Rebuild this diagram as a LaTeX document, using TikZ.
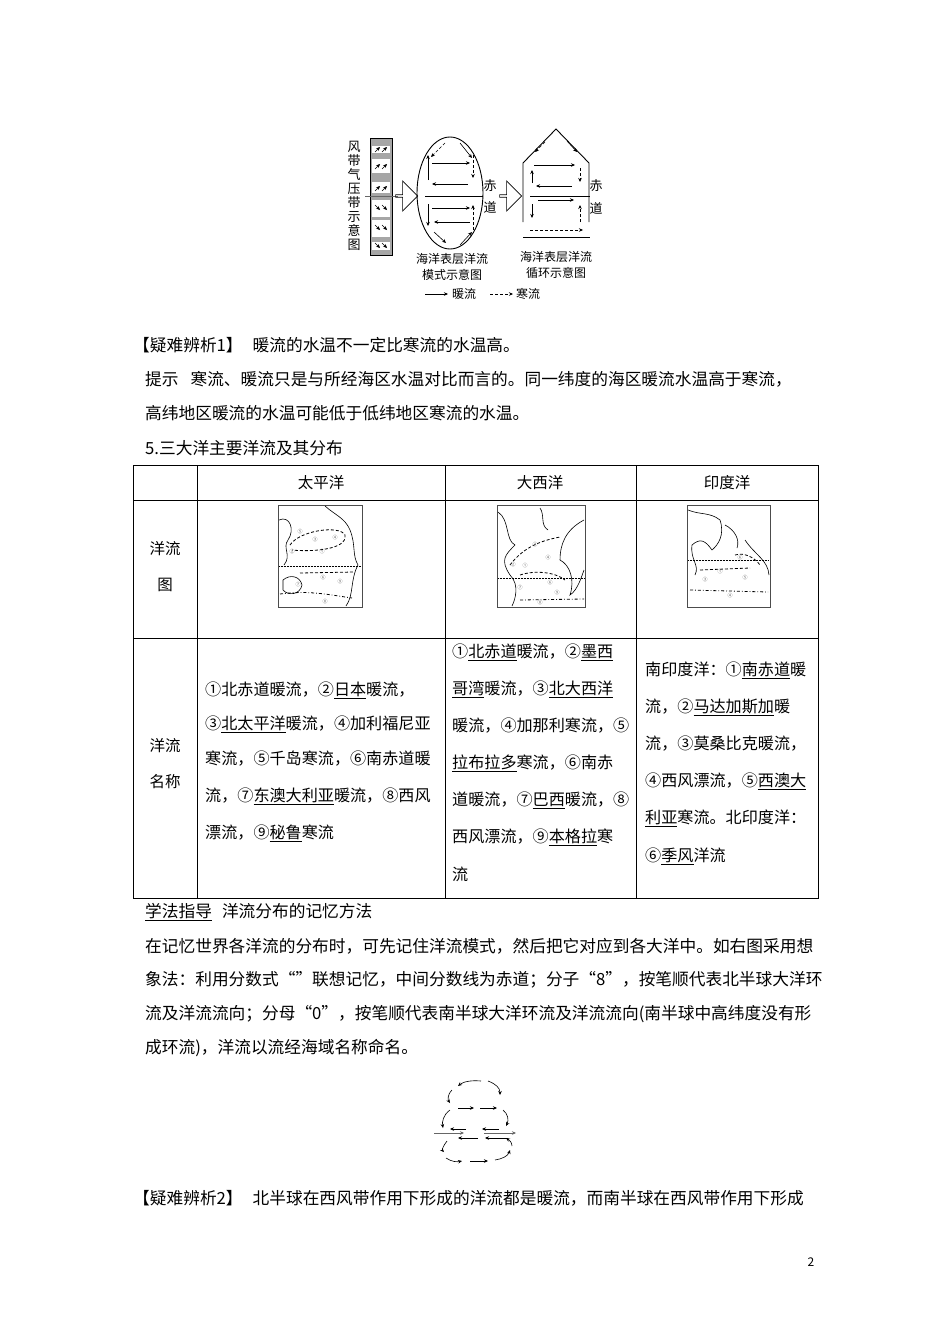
\documentclass[tikz,border=0pt]{standalone}
\usepackage{fontspec}
\setmainfont{Noto Sans CJK SC}
\usetikzlibrary{arrows.meta,shapes.arrows}
\begin{document}
\begin{tikzpicture}[x=1pt,y=-1pt,
 txt/.style={anchor=west,inner sep=0,font=\fontsize{16.7}{16.7}\selectfont},
 tbl/.style={anchor=west,inner sep=0,font=\fontsize{16.1}{16.1}\selectfont},
 ctxt/.style={inner sep=0,font=\fontsize{15.5}{15.5}\selectfont},
 small/.style={inner sep=0,font=\fontsize{12}{12}\selectfont},
 ar/.style={-{Stealth[length=4pt,width=3.5pt]},line width=0.6pt},
 dar/.style={ar,densely dashed},
 grid/.style={line width=0.7pt},
 map/.style={draw=black!70,line width=0.9pt},
 coast/.style={line width=0.6pt},
 cur/.style={densely dashed,line width=0.8pt},
 blk/.style={single arrow,draw,line width=0.7pt,minimum height=22pt,minimum width=30pt,single arrow head extend=4pt,inner sep=0}]
\path[fill=white,use as bounding box] (0,0) rectangle (950,1344);

% ---------- top diagram ----------
\node[small,align=center,font=\fontsize{13}{13}\selectfont] (fd) at (354,196) {风\\[1pt]带\\[1pt]气\\[1pt]压\\[1pt]带\\[1pt]示\\[1pt]意\\[1pt]图};
\fill[black!35] (370,138) rectangle (392,255);
\draw[line width=0.5pt] (370,138) rectangle (392,255);
\foreach \a/\b in {146/153,159/173,182/193,200/217,220/237,242/250}{\fill[white] (372,\a) rectangle (390,\b);}
\foreach \y in {149,166,188}{\draw[ar,line width=0.4pt] (375,\y+3)--(380,\y-2);\draw[ar,line width=0.4pt] (382,\y+3)--(387,\y-2);}
\foreach \y in {208,228,246}{\draw[ar,line width=0.4pt] (375,\y-3)--(380,\y+2);\draw[ar,line width=0.4pt] (382,\y-3)--(387,\y+2);}
\draw[line width=0.8pt,black!60] (365,196)--(398,196);
\node[blk] (b1) at (406,196) {};
\draw[line width=0.9pt] (450,193) ellipse [x radius=33,y radius=56];
\draw[line width=0.8pt] (425,196)--(483,196);
\node[small,font=\fontsize{13}{13}\selectfont] (cd1) at (490,186) {赤}; \node[small,font=\fontsize{13}{13}\selectfont] (cd2) at (490,207) {道};
\draw[ar] (432,163)--(470,163);
\draw[ar] (468,184)--(432,184);
\draw[ar] (432,208)--(470,208);
\draw[ar] (470,222)--(434,222);
\draw[ar] (428,180)--(428,155);
\draw[ar] (428,204)--(428,226);
\draw[dar] (473,155)--(473,178);
\draw[dar] (473,230)--(473,205);
\draw[ar] (460,143)--(472,158);
\draw[dar] (445,143)--(431,157);
\draw[ar] (434,232)--(446,243);
\draw[ar] (460,245)--(472,232);
\node[blk] (b2) at (510,196) {};
\draw[line width=0.9pt] (523,222)--(523,163)--(556,129)--(589,163)--(589,222);
\draw[line width=0.9pt] (523,237)--(590,237);
\draw[line width=0.8pt] (530,196)--(590,196);
\node[small,font=\fontsize{13}{13}\selectfont] (cd3) at (596,186) {赤}; \node[small,font=\fontsize{13}{13}\selectfont] (cd4) at (596,208) {道};
\draw[dar] (530,230)--(583,230);
\draw[ar] (534,165)--(575,165);
\draw[ar] (572,186)--(536,186);
\draw[ar] (538,200)--(574,200);
\draw[ar] (532,183)--(532,170);
\draw[ar] (532,204)--(532,218);
\draw[dar] (580,168)--(580,182);
\draw[dar] (580,222)--(580,205);
\draw[ar] (567,141)--(577,152);
\draw[dar] (545,142)--(535,152);
\node[small] (c1) at (452,259) {海洋表层洋流};
\node[small] (c2) at (452,275) {模式示意图};
\node[small] (c3) at (556,257) {海洋表层洋流};
\node[small] (c4) at (556,273) {循环示意图};
\coordinate (l1) at (425,294); \coordinate (l2) at (448,294);
\draw[ar] (l1)--(l2);
\node[small,anchor=west] (lw) at (452,294) {暖流};
\coordinate (l3) at (490,294); \coordinate (l4) at (513,294);
\draw[dar] (l3)--(l4);
\node[small,anchor=west] (lc) at (516,294) {寒流};

% ---------- text ----------
\node[txt] (t1) at (133,345) {【疑难辨析1】\hspace{10pt}暖流的水温不一定比寒流的水温高。};
\node[txt] (t2) at (145,379) {提示\hspace{12pt}寒流、暖流只是与所经海区水温对比而言的。同一纬度的海区暖流水温高于寒流，};
\node[txt] (t3) at (145,413) {高纬地区暖流的水温可能低于低纬地区寒流的水温。};
\node[txt] (t4) at (145,448) {5.三大洋主要洋流及其分布};

% ---------- table ----------
\draw[grid] (133,465) rectangle (818,898);
\draw[grid] (133,500)--(818,500);
\draw[grid] (133,638)--(818,638);
\foreach \x in {197,445,636}{\draw[grid] (\x,465)--(\x,898);}
\node[ctxt] (h1) at (321,483) {太平洋};
\node[ctxt] (h2) at (540,483) {大西洋};
\node[ctxt] (h3) at (727,483) {印度洋};
\node[ctxt] (r1a) at (165,549) {洋流};
\node[ctxt] (r1b) at (165,585) {图};
\node[ctxt] (r2a) at (165,746) {洋流};
\node[ctxt] (r2b) at (165,782) {名称};

% maps
\draw[map] (278,505) rectangle (362,607);
\draw[coast] (279,520)..controls (290,515) and (295,530)..(288,540)..controls (282,548) and (292,555)..(284,565);
\draw[coast] (325,506)..controls (335,515) and (345,518)..(350,530)..controls (356,545) and (352,555)..(358,565)..controls (350,580) and (354,595)..(346,606);
\draw[coast] (283,580)..controls (290,574) and (300,576)..(302,585)..controls (300,595) and (288,596)..(283,590)--cycle;
\draw[densely dotted,line width=0.5pt] (279,566)--(361,566);
\draw[cur] (290,545)..controls (300,530) and (340,525)..(345,535)..controls (348,550) and (310,552)..(292,550);
\draw[cur] (300,573)--(355,572);
\draw[cur,dash dot] (280,594)..controls (310,590) and (330,595)..(352,598);
\foreach \p/\n in {{(300,532)}/⑤,{(315,540)}/③,{(335,538)}/④,{(292,552)}/②,{(322,552)}/①,{(323,578)}/⑥,{(340,582)}/⑨,{(298,585)}/⑦,{(325,602)}/⑧}{\node[inner sep=0,font=\fontsize{5}{5}\selectfont,text=black!60] at \p {\n};}
\draw[map] (497,505) rectangle (585,607);
\draw[coast] (498,512)..controls (510,520) and (505,540)..(515,545)..controls (505,555) and (500,560)..(510,575)..controls (520,585) and (515,600)..(512,606);
\draw[coast] (540,508)..controls (545,515) and (540,525)..(548,530);
\draw[coast] (584,520)..controls (565,530) and (560,545)..(560,560)..controls (570,565) and (575,580)..(570,595)..controls (578,590) and (582,575)..(584,570);
\draw[densely dotted,line width=0.5pt] (498,578)--(584,578);
\draw[cur] (510,565)..controls (525,545) and (545,540)..(560,537);
\draw[cur] (520,575)..controls (535,570) and (555,572)..(565,580);
\draw[cur,dash dot] (520,600)--(584,599);
\foreach \p/\n in {{(535,545)}/③,{(548,558)}/④,{(513,565)}/②,{(525,566)}/①,{(550,583)}/⑥,{(520,588)}/⑦,{(557,593)}/⑨,{(540,603)}/⑧}{\node[inner sep=0,font=\fontsize{5}{5}\selectfont,text=black!60] at \p {\n};}
\draw[map] (687,505) rectangle (770,607);
\draw[coast] (688,510)..controls (700,515) and (710,512)..(720,520)..controls (725,535) and (718,545)..(712,550)..controls (705,540) and (700,538)..(692,545)..controls (690,560) and (700,565)..(695,575);
\draw[coast] (725,525)..controls (735,530) and (740,540)..(737,548);
\draw[coast] (745,540)..controls (755,555) and (768,560)..(769,575);
\draw[densely dotted,line width=0.5pt] (688,560)--(769,560);
\draw[cur] (700,570)--(750,568);
\draw[cur,dash dot] (690,590)--(768,592);
\draw[cur] (735,555)..controls (745,552) and (755,558)..(760,565);
\foreach \p/\n in {{(720,572)}/①,{(705,580)}/③,{(745,578)}/⑤,{(730,596)}/④,{(740,558)}/⑥}{\node[inner sep=0,font=\fontsize{5}{5}\selectfont,text=black!60] at \p {\n};}

% table text
\node[tbl] (a1) at (205,690) {①北赤道暖流，②\underline{日本}暖流，};
\node[tbl] (a2) at (205,724) {③\underline{北太平洋}暖流，④加利福尼亚};
\node[tbl] (a3) at (205,759) {寒流，⑤千岛寒流，⑥南赤道暖};
\node[tbl] (a4) at (205,796) {流，⑦\underline{东澳大利亚}暖流，⑧西风};
\node[tbl] (a5) at (205,833) {漂流，⑨\underline{秘鲁}寒流};
\node[tbl] (b1t) at (452,652) {①\underline{北赤道}暖流，②\underline{墨西}};
\node[tbl] (b2t) at (452,689) {\underline{哥湾}暖流，③\underline{北大西洋}};
\node[tbl] (b3t) at (452,726) {暖流，④加那利寒流，⑤};
\node[tbl] (b4t) at (452,763) {\underline{拉布拉多}寒流，⑥南赤};
\node[tbl] (b5t) at (452,800) {道暖流，⑦\underline{巴西}暖流，⑧};
\node[tbl] (b6t) at (452,837) {西风漂流，⑨\underline{本格拉}寒};
\node[tbl] (b7t) at (452,874) {流};
\node[tbl] (d1) at (645,670) {南印度洋：①\underline{南赤道}暖};
\node[tbl] (d2) at (645,707) {流，②\underline{马达加斯加}暖};
\node[tbl] (d3) at (645,744) {流，③莫桑比克暖流，};
\node[tbl] (d4) at (645,781) {④西风漂流，⑤\underline{西澳大}};
\node[tbl] (d5) at (645,818) {\underline{利亚}寒流。北印度洋：};
\node[tbl] (d6) at (645,856) {⑥\underline{季风}洋流};

% ---------- lower text ----------
\node[txt] (s1) at (145,912) {\underline{学法指导}\hspace{10pt}洋流分布的记忆方法};
\node[txt] (s2) at (145,946) {在记忆世界各洋流的分布时，可先记住洋流模式，然后把它对应到各大洋中。如右图采用想};
\node[txt] (s3) at (145,980) {象法：利用分数式“”联想记忆，中间分数线为赤道；分子“8”，按笔顺代表北半球大洋环};
\node[txt] (s4) at (145,1014) {流及洋流流向；分母“0”，按笔顺代表南半球大洋环流及洋流流向(南半球中高纬度没有形};
\node[txt] (s5) at (145,1048) {成环流)，洋流以流经海域名称命名。};

% ---------- bottom diagram ----------
\draw[ar] (481,1081)..controls (470,1080) and (463,1082)..(458,1086);
\draw[ar] (452,1090)..controls (447,1095) and (448,1100)..(450,1103);
\draw[ar] (488,1081)..controls (496,1084) and (500,1088)..(500,1095);
\draw[ar] (458,1108)--(474,1108);
\draw[ar] (480,1108)--(497,1108);
\draw[ar] (450,1110)..controls (443,1115) and (442,1122)..(443,1128);
\draw[ar] (503,1110)..controls (508,1114) and (509,1120)..(506,1126);
\draw[ar] (466,1129)--(450,1129);
\draw[ar] (499,1129)--(482,1129);
\draw[ar,black!60,line width=0.9pt] (434,1133)--(464,1133);
\draw[ar,black!60,line width=0.9pt] (484,1133)--(516,1133);
\draw[ar] (478,1138)--(458,1138);
\draw[ar] (508,1138)--(485,1138);
\draw[ar] (447,1141)..controls (443,1146) and (442,1150)..(444,1152);
\draw[ar] (446,1158)..controls (452,1162) and (457,1162)..(462,1161);
\draw[ar] (470,1161)--(488,1161);
\draw[ar] (495,1160)..controls (502,1159) and (508,1156)..(510,1150);
\draw[ar] (512,1146)..controls (512,1142) and (509,1140)..(506,1138);

\node[txt] (t9) at (133,1198) {【疑难辨析2】\hspace{10pt}北半球在西风带作用下形成的洋流都是暖流，而南半球在西风带作用下形成};
\node[inner sep=0,font=\fontsize{12}{12}\selectfont] (pg) at (811,1262) {2};
\end{tikzpicture}
\end{document}
